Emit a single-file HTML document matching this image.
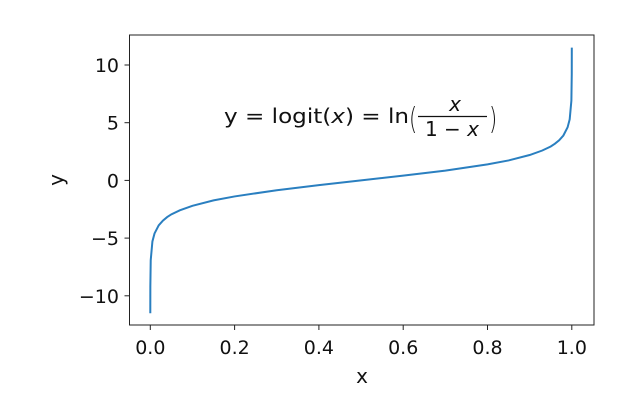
<!DOCTYPE html>
<html><head><meta charset="utf-8"><style>
body{margin:0;background:#fff}
svg{display:block;font-family:"DejaVu Sans","Liberation Sans",sans-serif}
</style></head><body>
<svg id="chart" width="642" height="410" viewBox="0 0 642 410">
<rect x="0" y="0" width="642" height="410" fill="#fff"/>
<g id="ticks"></g>
<polyline id="curve" fill="none" stroke="#2a7fc0" stroke-width="2"/>
<rect x="129.5" y="35" width="464.5" height="290" fill="none" stroke="#222" stroke-width="1"/>
<g font-size="20" fill="#111">
<text x="224" y="123" textLength="185" lengthAdjust="spacingAndGlyphs">y = logit(<tspan font-style="italic">x</tspan>) = ln</text>
<text x="409" y="129" font-size="30" font-weight="200" transform="translate(409,0) scale(0.7,1) translate(-409,0)">(</text>
<text x="455" y="111" text-anchor="middle" font-style="italic">x</text>
<line x1="418" y1="116.5" x2="487" y2="116.5" stroke="#111" stroke-width="1.2"/>
<text x="452" y="136" text-anchor="middle">1 − <tspan font-style="italic">x</tspan></text>
<text x="489" y="129" font-size="30" font-weight="200" transform="translate(489,0) scale(0.7,1) translate(-489,0)">)</text>
</g>
<text x="362" y="383" text-anchor="middle" font-size="20" fill="#111">x</text>
<text x="0" y="0" transform="translate(63,180) rotate(-90)" text-anchor="middle" font-size="20" fill="#111">y</text>
</svg>
<script>
const xTicks=[0,0.2,0.4,0.6,0.8,1.0];
const xTickLabels=["0.0","0.2","0.4","0.6","0.8","1.0"];
const yTicks=[-10,-5,0,5,10];
const yTickLabels=["−10","−5","0","5","10"];
const xs=[0.00001,0.0001,0.001,0.005,0.01,0.02,0.03,0.04,0.05,0.07,0.1,0.15,0.2,0.3,0.4,0.5,0.6,0.7,0.8,0.85,0.9,0.93,0.95,0.96,0.97,0.98,0.99,0.995,0.999,0.9999,0.99999];
const ys=[-11.51,-9.21,-6.91,-5.29,-4.60,-3.89,-3.48,-3.18,-2.94,-2.59,-2.20,-1.73,-1.39,-0.85,-0.41,0,0.41,0.85,1.39,1.73,2.20,2.59,2.94,3.18,3.48,3.89,4.60,5.29,6.91,9.21,11.51];
const sx=v=>150.3+v*421.5;
const sy=v=>180.4-v*11.54;
const NS="http://www.w3.org/2000/svg";
const g=document.getElementById('ticks');
xTicks.forEach((t,i)=>{
 const l=document.createElementNS(NS,'line');
 l.setAttribute('x1',sx(t));l.setAttribute('x2',sx(t));l.setAttribute('y1',325);l.setAttribute('y2',330);l.setAttribute('stroke','#222');
 
 
 g.appendChild(l);
 const tx=document.createElementNS(NS,'text');
 tx.setAttribute('x',sx(t));tx.setAttribute('y',354);tx.setAttribute('text-anchor','middle');tx.setAttribute('font-size','19');tx.setAttribute('fill','#111');
 tx.textContent=xTickLabels[i];
 
 
 g.appendChild(tx);
});
yTicks.forEach((t,i)=>{
 const l=document.createElementNS(NS,'line');
 l.setAttribute('x1',124.5);l.setAttribute('x2',129.5);l.setAttribute('y1',sy(t));l.setAttribute('y2',sy(t));l.setAttribute('stroke','#222');
 
 
 g.appendChild(l);
 const tx=document.createElementNS(NS,'text');
 tx.setAttribute('x',119);tx.setAttribute('y',sy(t)+7);tx.setAttribute('text-anchor','end');tx.setAttribute('font-size','19');tx.setAttribute('fill','#111');
 tx.textContent=yTickLabels[i];
 
 
 g.appendChild(tx);
});
document.getElementById('curve').setAttribute('points',xs.map((x,i)=>sx(x).toFixed(2)+','+sy(ys[i]).toFixed(2)).join(' '));
</script>
</body></html>
